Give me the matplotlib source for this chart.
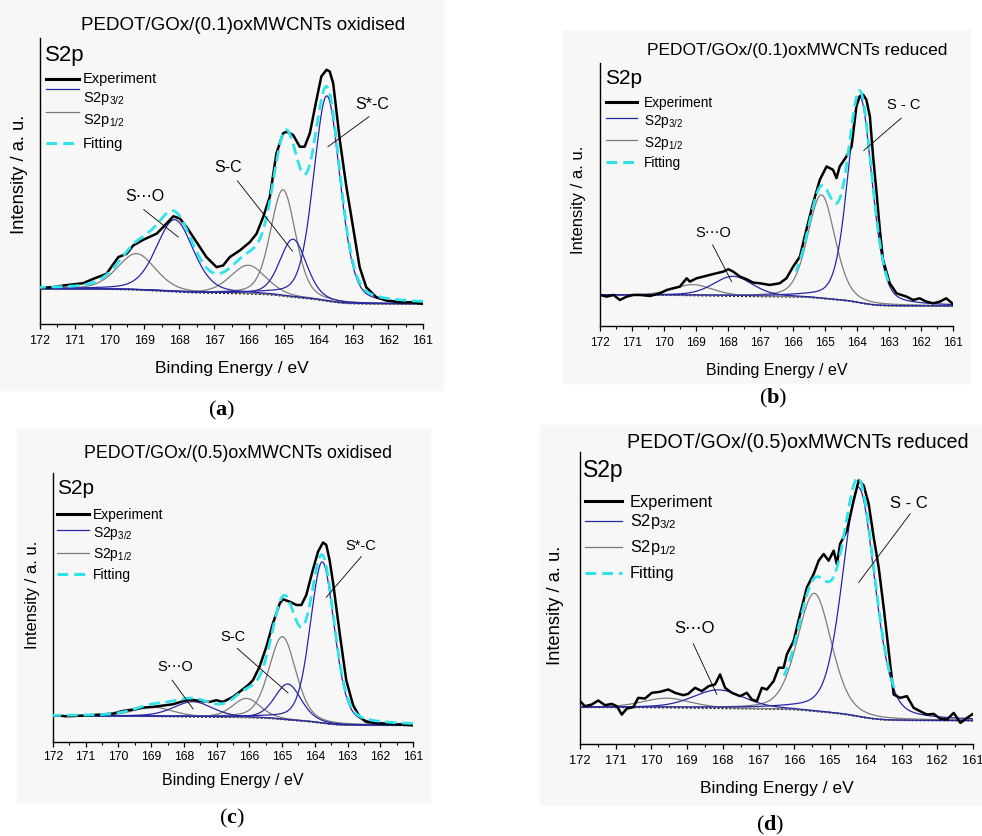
import numpy as np
import matplotlib
matplotlib.use("Agg")
from matplotlib import pyplot as plt
from matplotlib.lines import Line2D
from matplotlib.patches import Rectangle
from matplotlib.ticker import MultipleLocator

plt.rcParams['font.family'] = ['Liberation Sans', 'DejaVu Sans']
plt.rcParams['mathtext.fontset'] = 'custom'
plt.rcParams['mathtext.rm'] = 'Liberation Sans'
plt.rcParams['mathtext.it'] = 'Liberation Sans:italic'
plt.rcParams['mathtext.bf'] = 'Liberation Serif:bold'

W, H = 982, 836

titles = ["PEDOT/GOx/(0.1)oxMWCNTs oxidised", "PEDOT/GOx/(0.1)oxMWCNTs reduced",
          "PEDOT/GOx/(0.5)oxMWCNTs oxidised", "PEDOT/GOx/(0.5)oxMWCNTs reduced"]
tags = ["a", "b", "c", "d"]
legend_labels = ["Experiment", "S2p$_{3/2}$", "S2p$_{1/2}$", "Fitting"]
x_label = "Binding Energy / eV"
y_label = "Intensity / a. u."
so_label = "S\u22efO"

# espectros experimentais (energia em eV, intensidade em u.a.)
a_energy = [172.0, 171.62, 171.33, 170.76, 170.47, 170.09, 169.75, 169.51, 169.32, 169.03,
            168.65, 168.46, 168.17, 167.98, 167.79, 167.60, 167.41, 167.22, 166.93, 166.74,
            166.55, 166.26, 165.97, 165.78, 165.59, 165.40, 165.21, 165.02, 164.92, 164.73,
            164.54, 164.40, 164.25, 164.06, 163.92, 163.77, 163.68, 163.58, 163.49, 163.39,
            163.20, 163.01, 162.82, 162.63, 162.34, 162.05, 161.67, 161.29, 161.00]
a_exp = [108, 110, 115, 122, 135, 150, 200, 210, 235, 252,
         270, 290, 322, 315, 290, 260, 230, 200, 170, 175,
         200, 220, 245, 270, 320, 380, 510, 570, 575, 565,
         530, 530, 570, 670, 740, 760, 755, 720, 640, 550,
         410, 290, 170, 110, 80, 70, 65, 65, 60]

b_energy = [172.0, 171.79, 171.58, 171.38, 171.17, 170.96, 170.75, 170.44, 170.13, 169.92,
            169.72, 169.51, 169.30, 169.20, 168.99, 168.78, 168.58, 168.37, 168.16, 168.00,
            167.85, 167.64, 167.43, 167.23, 167.02, 166.71, 166.40, 166.19, 165.98, 165.77,
            165.57, 165.36, 165.15, 164.94, 164.74, 164.63, 164.53, 164.32, 164.16, 164.01,
            163.91, 163.80, 163.70, 163.59, 163.49, 163.39, 163.28, 163.18, 162.97, 162.76,
            162.45, 162.24, 162.04, 161.83, 161.62, 161.41, 161.21, 161.00]
b_exp = [93, 88, 93, 78, 88, 93, 93, 90, 98, 108,
         113, 118, 143, 133, 143, 148, 153, 158, 163, 170,
         163, 148, 140, 130, 128, 123, 128, 143, 178, 208,
         288, 368, 438, 478, 468, 443, 478, 508, 538, 658,
         688, 693, 678, 628, 508, 408, 288, 198, 128, 98,
         88, 78, 83, 73, 68, 73, 83, 66]

c_energy = [172.0, 171.59, 171.08, 170.57, 170.17, 169.86, 169.56, 169.25, 168.94, 168.64,
            168.33, 168.03, 167.82, 167.52, 167.21, 167.01, 166.81, 166.50, 166.30, 166.04,
            165.89, 165.69, 165.48, 165.28, 165.07, 164.97, 164.77, 164.56, 164.41, 164.26,
            164.06, 163.90, 163.75, 163.65, 163.55, 163.44, 163.24, 163.04, 162.83, 162.63,
            162.43, 162.02, 161.61, 161.00]
c_exp = [80, 77, 79, 82, 85, 93, 97, 103, 105, 109,
         113, 122, 127, 123, 120, 125, 120, 135, 150, 170,
         185, 225, 285, 355, 415, 427, 420, 410, 410, 440,
         515, 570, 597, 590, 545, 475, 325, 185, 110, 75,
         60, 55, 53, 50]

d_energy = [172.0, 171.86, 171.67, 171.49, 171.30, 171.11, 170.97, 170.83, 170.69, 170.51,
            170.37, 170.18, 169.99, 169.76, 169.53, 169.34, 169.11, 168.97, 168.78, 168.59,
            168.40, 168.22, 168.08, 167.94, 167.75, 167.52, 167.33, 167.19, 167.05, 166.91,
            166.77, 166.58, 166.44, 166.30, 166.21, 166.02, 165.84, 165.65, 165.46, 165.32,
            165.18, 165.04, 164.90, 164.81, 164.72, 164.53, 164.34, 164.20, 164.06, 163.92,
            163.78, 163.64, 163.50, 163.36, 163.22, 163.04, 162.85, 162.66, 162.48, 162.29,
            162.10, 161.92, 161.73, 161.54, 161.35, 161.17, 161.00]
d_exp = [128, 113, 118, 130, 116, 120, 113, 88, 106, 110,
         138, 136, 153, 156, 163, 153, 146, 150, 168, 158,
         173, 178, 208, 168, 153, 143, 153, 133, 128, 168,
         163, 188, 228, 228, 268, 308, 388, 468, 508, 548,
         568, 548, 578, 538, 598, 638, 728, 788, 773, 718,
         618, 528, 408, 278, 148, 138, 143, 108, 98, 88,
         90, 76, 73, 93, 63, 78, 90]

# componentes ajustadas: centro (eV), altura (u.a.), FWHM (eV)
a_c32, a_h32, a_w32 = [168.13, 164.73, 163.76], [215, 173, 613], [1.25, 0.90, 0.90]
a_c12, a_h12, a_w12 = [169.23, 166.02, 165.02], [108, 85, 317], [1.30, 1.20, 0.85]
b_c32, b_h32, b_w32 = [167.85, 163.90], [59, 617], [1.45, 0.90]
b_c12, b_h12, b_w12 = [169.10, 165.10], [32, 310], [1.45, 1.00]
c_c32, c_h32, c_w32 = [167.72, 164.82, 163.77], [45, 107, 482], [1.40, 0.95, 0.87]
c_c12, c_h12, c_w12 = [168.94, 166.09, 164.99], [27, 57, 247], [1.40, 1.00, 0.97]
d_c32, d_h32, d_w32 = [168.12, 164.20], [55, 685], [1.70, 1.07]
d_c12, d_h12, d_w12 = [169.57, 165.44], [28, 352], [1.60, 1.12]

# fundo Shirley: nivel em 172 eV e em 161 eV
a_bg, b_bg, c_bg, d_bg = (105, 60), (93, 60), (78, 50), (110, 70)
# intervalo onde a curva de ajuste é mostrada
a_fit, b_fit, c_fit, d_fit = (161, 172), (163.0, 165.9), (161, 172), (163.2, 166.3)

ETA = 0.3  # fração lorentziana


def pseudo_voigt(e, centro, altura, fwhm):
  x = (e - centro) / fwhm
  g = np.exp(-4 * np.log(2) * x ** 2)
  l = 1 / (1 + 4 * x ** 2)
  return altura * ((1 - ETA) * g + ETA * l)


def shirley(e, comps, alto, baixo):
  acum = np.cumsum(np.sum(comps, axis=0))
  return baixo + (alto - baixo) * acum / acum[-1]


def px(x, y):
  return x / W, 1 - y / H


BLUE = '#2727a6'
GREY = '#7d7d7d'
CYAN = '#2fe3ea'

panels = [
  dict(energy=a_energy, exp=a_exp, c32=a_c32, h32=a_h32, w32=a_w32, c12=a_c12, h12=a_h12, w12=a_w12,
       bg=a_bg, fit=a_fit, ylim=855, rect=(40, 38, 423, 324), box=(0, 0, 443, 390),
       title=(243, 25, 13.5), s2p=(45, 55, 16), leg=(46, 79, 83, 10.5), leg_y=[79, 89, 112, 143],
       leg_t=[83, 102, 124, 148], tick=(9, 4.5), xlab=(12.5, 368), ylab=(20, 174, 13.2), tag=(222, 410),
       ann=[(so_label, 168.99, 380, 169.02, 342, 168.03, 260),
            ("S-C", 166.61, 467, 166.33, 428, 164.75, 218),
            ("S*-C", 162.45, 655, 162.55, 620, 163.73, 530)], ann_fs=11.5),
  dict(energy=b_energy, exp=b_exp, c32=b_c32, h32=b_h32, w32=b_w32, c12=b_c12, h12=b_h12, w12=b_w12,
       bg=b_bg, fit=b_fit, ylim=788, rect=(600, 63, 953, 326), box=(563, 30, 970, 383),
       title=(797, 51, 12.5), s2p=(605, 78, 15), leg=(606, 637, 644, 9.8), leg_y=[102, 118, 140, 162],
       leg_t=[107, 125, 147, 167], tick=(8.5, 4.5), xlab=(11.5, 370), ylab=(578, 200, 12), tag=(773, 398),
       ann=[(so_label, 168.47, 278, 168.49, 243, 167.90, 133),
            ("S - C", 162.53, 661, 162.61, 623, 163.78, 526)], ann_fs=10.5),
  dict(energy=c_energy, exp=c_exp, c32=c_c32, h32=c_h32, w32=c_w32, c12=c_c12, h12=c_h12, w12=c_w12,
       bg=c_bg, fit=c_fit, ylim=805, rect=(53, 473, 413, 742), box=(17, 428, 430, 802),
       title=(238, 454, 12.8), s2p=(57, 488, 15), leg=(57, 89, 93, 10), leg_y=[514, 530, 553, 574],
       leg_t=[519, 537, 558, 579], tick=(8.7, 3), xlab=(11.5, 780), ylab=(33, 595, 12), tag=(232, 818),
       ann=[(so_label, 168.26, 225, 168.36, 185, 167.72, 99),
            ("S-C", 166.50, 315, 166.37, 280, 164.82, 147),
            ("S*-C", 162.60, 587, 162.58, 555, 163.65, 433)], ann_fs=10.5),
  dict(energy=d_energy, exp=d_exp, c32=d_c32, h32=d_h32, w32=d_w32, c12=d_c12, h12=d_h12, w12=d_w12,
       bg=d_bg, fit=d_fit, ylim=873, rect=(580, 452, 973, 744), box=(540, 425, 982, 805),
       title=(798, 442, 14.2), s2p=(583, 471, 16.5), leg=(585, 622, 630, 11.8), leg_y=[501, 521, 547, 573],
       leg_t=[507, 526, 552, 578], tick=(9.3, 4.5), xlab=(12.5, 789), ylab=(555, 605, 13.2), tag=(770, 825),
       ann=[(so_label, 168.80, 346, 168.83, 300, 168.17, 148),
            ("S - C", 162.80, 718, 162.76, 688, 164.20, 483)], ann_fs=12),
]

fig = plt.figure(figsize=(W / 100, H / 100), dpi=100)

for i, p in enumerate(panels):
  bx0, by0, bx1, by1 = p['box']
  fig.patches.append(Rectangle(px(bx0, by1), (bx1 - bx0) / W, (by1 - by0) / H,
                               transform=fig.transFigure, color='#f7f7f7', zorder=-10))
  l, t, r, b = p['rect']
  x0, y0 = px(l, b)
  ax = fig.add_axes([x0, y0, (r - l) / W, (b - t) / H])
  ax.patch.set_alpha(0)

  e = np.linspace(161, 172, 700)
  p32 = [pseudo_voigt(e, c, h, w) for c, h, w in zip(p['c32'], p['h32'], p['w32'])]
  p12 = [pseudo_voigt(e, c, h, w) for c, h, w in zip(p['c12'], p['h12'], p['w12'])]
  fundo = shirley(e, p32 + p12, *p['bg'])
  ajuste = fundo + np.sum(p32, axis=0) + np.sum(p12, axis=0)

  ax.plot(e, fundo, color='k', lw=1.3, ls=(0, (1, 1.2)), zorder=2)
  for comp in p12:
    ax.plot(e, fundo + comp, color=GREY, lw=0.9, zorder=3)
  for comp in p32:
    ax.plot(e, fundo + comp, color=BLUE, lw=0.9, zorder=3)
  ax.plot(p['energy'], p['exp'], color='k', lw=1.8, zorder=4)
  sel = (e >= p['fit'][0]) & (e <= p['fit'][1])
  ax.plot(e[sel], ajuste[sel], color=CYAN, lw=2, dashes=(4, 2), zorder=5)

  for txt, tx, ty, lx0, ly0, lx1, ly1 in p['ann']:
    ax.text(tx, ty, txt, ha='center', va='center', fontsize=p['ann_fs'])
    ax.plot([lx0, lx1], [ly0, ly1], color='k', lw=0.6, zorder=6)

  ax.set_xlim(172, 161)
  ax.set_ylim(0, p['ylim'])
  ax.xaxis.set_major_locator(MultipleLocator(1))
  ax.xaxis.set_minor_locator(MultipleLocator(0.5))
  ax.set_xticks(list(range(161, 173)))
  ax.set_xticklabels([str(v) for v in range(161, 173)])
  ax.set_yticks([])
  for s in ['top', 'right']:
    ax.spines[s].set_visible(False)
  ax.spines['left'].set_linewidth(1)
  ax.spines['bottom'].set_linewidth(1)
  tfs_tick, tpad = p['tick']
  ax.tick_params(axis='x', which='major', direction='out', length=3.5, width=0.9,
                 labelsize=tfs_tick, pad=tpad)
  ax.tick_params(axis='x', which='minor', direction='out', length=2, width=0.8)

  xfs, xly = p['xlab']
  ax.set_xlabel(x_label, fontsize=xfs)
  ax.xaxis.set_label_coords(0.5, (b - xly) / (b - t), transform=ax.transAxes)
  ax.xaxis.label.set_va('center')
  ylx, yly, yfs = p['ylab']
  ax.set_ylabel(y_label, fontsize=yfs)
  ax.yaxis.set_label_coords((ylx - l) / (r - l), (b - yly) / (b - t))
  ax.yaxis.label.set_va('center')

  tx, ty, tfs = p['title']
  fig.text(*px(tx, ty), titles[i], ha='center', va='center', fontsize=tfs)
  sx, sy, sfs = p['s2p']
  fig.text(*px(sx, sy), "S2p", ha='left', va='center', fontsize=sfs)

  lx0, lx1, ltx, lfs = p['leg']
  estilos = [dict(color='k', lw=2.2), dict(color=BLUE, lw=0.9), dict(color=GREY, lw=0.9),
             dict(color=CYAN, lw=2.2, dashes=(3.5, 2))]
  for lab, ly, lt, st in zip(legend_labels, p['leg_y'], p['leg_t'], estilos):
    fig.add_artist(Line2D([lx0 / W, lx1 / W], [1 - ly / H, 1 - ly / H], transform=fig.transFigure, **st))
    fig.text(*px(ltx, lt), lab, ha='left', va='baseline', fontsize=lfs)

  gx, gy = p['tag']
  fig.text(*px(gx, gy), "($\\mathbf{" + tags[i] + "}$)", ha='center', va='center',
           fontsize=16, family='Liberation Serif')

fig.savefig("out.png", dpi=100)
